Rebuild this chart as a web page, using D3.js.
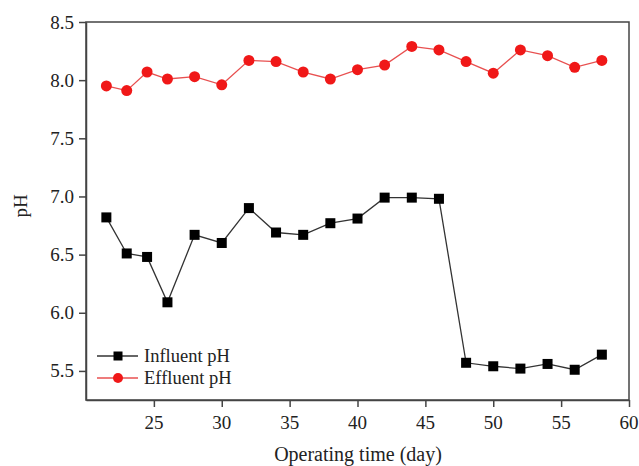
<!DOCTYPE html>
<html>
<head>
<meta charset="utf-8">
<script src="https://cdn.jsdelivr.net/npm/d3@7"></script>
<style>
  html, body { margin: 0; padding: 0; background: #fff; }
  svg { display: block; }
  svg text { font-family: "Liberation Serif", "Times New Roman", serif; fill: #222; }
</style>
</head>
<body>
<svg id="chart" width="639" height="466"></svg>
<script>
const days = [21.5, 23, 24.5, 26, 28, 30, 32, 34, 36, 38, 40, 42, 44, 46, 48, 50, 52, 54, 56, 58];
const influentPH = [6.82, 6.51, 6.48, 6.09, 6.67, 6.60, 6.90, 6.69, 6.67, 6.77, 6.81, 6.99, 6.99, 6.98, 5.57, 5.54, 5.52, 5.56, 5.51, 5.64];
const effluentPH = [7.95, 7.91, 8.07, 8.01, 8.03, 7.96, 8.17, 8.16, 8.07, 8.01, 8.09, 8.13, 8.29, 8.26, 8.16, 8.06, 8.26, 8.21, 8.11, 8.17];
const xTicks = [25, 30, 35, 40, 45, 50, 55, 60];
const yTicks = [5.5, 6.0, 6.5, 7.0, 7.5, 8.0, 8.5];
const seriesNames = ["Influent pH", "Effluent pH"];
const xLabel = "Operating time (day)";
const yLabel = "pH";

const svg = d3.select("#chart");
const L = 86, R = 629, T = 22, B = 400;
const x = d3.scaleLinear().domain([20, 60]).range([L, R]);
const y = d3.scaleLinear().domain([5.25, 8.5]).range([B, T]);
const axisColor = "#444";
const serif = "Liberation Serif, Times New Roman, serif";

// frame
svg.append("rect").attr("x", L).attr("y", T).attr("width", R - L).attr("height", B - T)
  .attr("fill", "none").attr("stroke", axisColor).attr("stroke-width", 1.5);

const xAxis = svg.append("g").attr("transform", `translate(0,${B})`)
  .call(d3.axisBottom(x).tickValues(xTicks).tickSize(7).tickSizeOuter(0).tickFormat(() => ""));
const yAxis = svg.append("g").attr("transform", `translate(${L},0)`)
  .call(d3.axisLeft(y).tickValues(yTicks).tickSize(7).tickSizeOuter(0).tickFormat(() => ""));
[xAxis, yAxis].forEach(a => {
  a.select(".domain").attr("stroke", axisColor).attr("stroke-width", 1.5);
  a.selectAll("line").attr("stroke", axisColor).attr("stroke-width", 1.5);
});

// tick labels positioned through the scales
const fx = d3.format("d"), fy = d3.format(".1f");
svg.append("g").selectAll("text").data(xTicks).join("text")
  .attr("x", d => x(d)).attr("y", B + 29).attr("text-anchor", "middle")
  .style("font-family", serif).style("font-size", "19px").text(d => fx(d));
svg.append("g").selectAll("text").data(yTicks).join("text")
  .attr("x", L - 12).attr("y", d => y(d) + 6.5).attr("text-anchor", "end")
  .style("font-family", serif).style("font-size", "19px").text(d => fy(d));

svg.append("text").attr("x", 358).attr("y", 461).attr("text-anchor", "middle")
  .style("font-size", "20px").text(xLabel);
svg.append("text").attr("transform", `translate(27,${206}) rotate(-90)`)
  .attr("text-anchor", "middle").style("font-size", "19px").text(yLabel);

const line = d3.line().x(d => x(d[0])).y(d => y(d[1]));
const inf = days.map((d, i) => [d, influentPH[i]]);
const eff = days.map((d, i) => [d, effluentPH[i]]);

svg.append("path").datum(eff).attr("d", line).attr("fill", "none").attr("stroke", "#e85050").attr("stroke-width", 1.3);
svg.append("path").datum(inf).attr("d", line).attr("fill", "none").attr("stroke", "#333").attr("stroke-width", 1.3);

const sq = 10;
svg.append("g").selectAll("rect").data(inf).join("rect")
  .attr("x", d => x(d[0]) - sq / 2).attr("y", d => y(d[1]) - sq / 2)
  .attr("width", sq).attr("height", sq).attr("fill", "#000");
svg.append("g").selectAll("circle").data(eff).join("circle")
  .attr("cx", d => x(d[0])).attr("cy", d => y(d[1])).attr("r", 5.5)
  .attr("fill", "#f01818");

// legend
const leg = svg.append("g");
const legY = [356, 378];
const lx0 = 97, lx1 = 138, lm = 118;
leg.append("line").attr("x1", lx0).attr("x2", lx1).attr("y1", legY[0]).attr("y2", legY[0]).attr("stroke", "#333").attr("stroke-width", 1.3);
leg.append("rect").attr("x", lm - 4.5).attr("y", legY[0] - 4.5).attr("width", 9).attr("height", 9).attr("fill", "#000");
leg.append("line").attr("x1", lx0).attr("x2", lx1).attr("y1", legY[1]).attr("y2", legY[1]).attr("stroke", "#e85050").attr("stroke-width", 1.3);
leg.append("circle").attr("cx", lm).attr("cy", legY[1]).attr("r", 5).attr("fill", "#f01818");
seriesNames.forEach((n, i) => {
  leg.append("text").attr("x", 144).attr("y", legY[i] + 6).style("font-size", "18.5px").text(n);
});
</script>
</body>
</html>
